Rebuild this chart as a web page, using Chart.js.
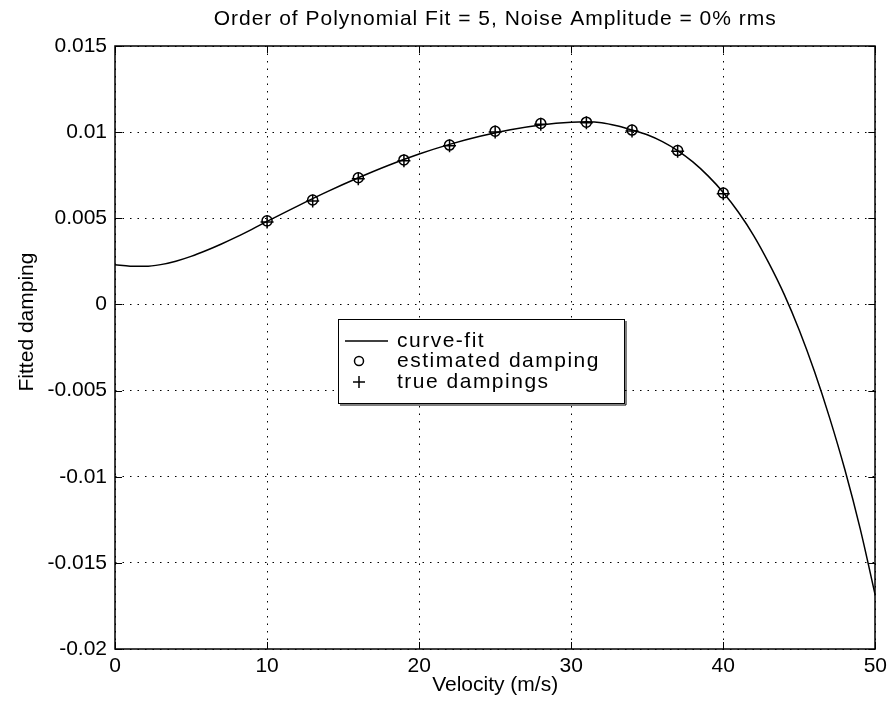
<!DOCTYPE html>
<html>
<head>
<meta charset="utf-8">
<title>Polynomial fit of damping</title>
<script src="https://cdn.jsdelivr.net/npm/chart.js@4.4.1/dist/chart.umd.min.js"></script>
<style>
  html, body { margin: 0; padding: 0; background: #fff; }
  #wrap { width: 892px; height: 704px; }
</style>
</head>
<body>
<div id="wrap"><canvas id="chart"></canvas></div>
<script>
// ---------------------------------------------------------------
// DATA
// ---------------------------------------------------------------
const curveVelocity = [0, 1, 2, 3, 4, 5, 6, 7, 8, 9, 10, 12, 14, 16, 18, 20, 22, 24, 26, 28,
                       30, 31, 32, 33, 34, 35, 36, 37, 38, 39, 40, 41, 42, 43, 44, 45, 46, 47, 48, 49, 50];
const curveDamping = [0.0023, 0.00222, 0.00221, 0.00231, 0.00251, 0.00279, 0.00313, 0.00351, 0.00392, 0.00436,
                      0.00482, 0.00571, 0.00656, 0.00735, 0.00808, 0.00873, 0.00929, 0.00976, 0.01014, 0.01042,
                      0.01058, 0.0106, 0.01055, 0.01037, 0.01012, 0.00985, 0.00945, 0.00893, 0.00827, 0.00746,
                      0.0065, 0.00535, 0.0040, 0.0024, 0.0006, -0.0015, -0.0039, -0.0066, -0.0096, -0.0130, -0.0169];

const velocities = [10, 13, 16, 19, 22, 25, 28, 31, 34, 37, 40];
const estimatedDamping = [0.00485, 0.00606, 0.00735, 0.00839, 0.00925, 0.01005, 0.0105, 0.01058, 0.01012, 0.00893, 0.00647];
const trueDampings = [0.00478, 0.00600, 0.00729, 0.00834, 0.00921, 0.01001, 0.01046, 0.01055, 0.01007, 0.00889, 0.00643];

const xTicks = [0, 10, 20, 30, 40, 50];
const yTicks = [-0.02, -0.015, -0.01, -0.005, 0, 0.005, 0.01, 0.015];

const titleText = 'Order of Polynomial Fit = 5, Noise Amplitude = 0% rms';
const xTitle = 'Velocity (m/s)';
const yTitle = 'Fitted damping';
const legendLabels = ['curve-fit', 'estimated damping', 'true dampings'];

const FONT = '"Liberation Sans", Arial, Helvetica, sans-serif';

function toPoints(xs, ys) {
    return xs.map((x, i) => ({ x: x, y: ys[i] }));
}

//---------------------------------------------------------------
// FRAME, INWARD TICKS, TITLES, LEGEND
//---------------------------------------------------------------
const matlabDecor = {
    id: 'matlabDecor',
    afterDraw(chart) {
        const ctx = chart.ctx;
        const a = chart.chartArea;
        const xs = chart.scales.x;
        const ys = chart.scales.y;
        const tl = 7;

        ctx.save();
        ctx.strokeStyle = '#000';
        ctx.lineWidth = 1;
        ctx.setLineDash([]);

        // inward ticks
        ctx.beginPath();
        xTicks.forEach(v => {
            const px = Math.round(xs.getPixelForValue(v)) + 0.5;
            ctx.moveTo(px, a.bottom); ctx.lineTo(px, a.bottom - tl);
            ctx.moveTo(px, a.top); ctx.lineTo(px, a.top + tl);
        });
        yTicks.forEach(v => {
            const py = Math.round(ys.getPixelForValue(v)) + 0.5;
            ctx.moveTo(a.left, py); ctx.lineTo(a.left + tl, py);
            ctx.moveTo(a.right, py); ctx.lineTo(a.right - tl, py);
        });
        ctx.stroke();

        // box
        ctx.lineWidth = 1.5;
        ctx.strokeRect(Math.round(a.left), Math.round(a.top), Math.round(a.right - a.left), Math.round(a.bottom - a.top));

        // title
        ctx.fillStyle = '#000';
        ctx.font = '21px ' + FONT;
        ctx.textAlign = 'center';
        ctx.textBaseline = 'middle';
        ctx.letterSpacing = '1px';
        ctx.fillText(titleText, (a.left + a.right) / 2, 19);
        ctx.letterSpacing = '0px';

        // y title
        ctx.save();
        ctx.translate(27, 322);
        ctx.rotate(-Math.PI / 2);
        ctx.fillText(yTitle, 0, 0);
        ctx.restore();

        // legend
        const lx = 338, ly = 319, lw = 286, lh = 84;
        ctx.fillStyle = '#fff';
        ctx.fillRect(lx, ly, lw, lh);
        ctx.lineWidth = 1;
        ctx.strokeStyle = '#000';
        ctx.strokeRect(lx + 0.5, ly + 0.5, lw, lh);
        ctx.beginPath();
        ctx.moveTo(lx + 2, ly + lh + 2); ctx.lineTo(lx + lw + 2, ly + lh + 2);
        ctx.lineTo(lx + lw + 2, ly + 2);
        ctx.stroke();

        const rows = [341, 361, 382];
        ctx.lineWidth = 1.5;
        ctx.beginPath();
        ctx.moveTo(345, rows[0]); ctx.lineTo(388, rows[0]);
        ctx.stroke();
        ctx.beginPath();
        ctx.arc(359, rows[1], 4.5, 0, Math.PI * 2);
        ctx.stroke();
        ctx.beginPath();
        ctx.moveTo(353, rows[2]); ctx.lineTo(365, rows[2]);
        ctx.moveTo(359, rows[2] - 6); ctx.lineTo(359, rows[2] + 6);
        ctx.stroke();

        ctx.fillStyle = '#000';
        ctx.font = '21px ' + FONT;
        ctx.textAlign = 'left';
        ctx.textBaseline = 'middle';
        ctx.letterSpacing = '1.5px';
        legendLabels.forEach((t, i) => ctx.fillText(t, 397, rows[i]));
        ctx.letterSpacing = '0px';

        ctx.restore();
    }
};

const ctx = document.getElementById('chart').getContext('2d');
const chart = new Chart(ctx, {
    type: 'scatter',
    data: {
        datasets: [{
            label: legendLabels[0],
            data: toPoints(curveVelocity, curveDamping),
            showLine: true,
            borderColor: '#000',
            borderWidth: 1.5,
            pointRadius: 0,
            cubicInterpolationMode: 'monotone',
            fill: false
        }, {
            label: legendLabels[1],
            data: toPoints(velocities, estimatedDamping),
            showLine: false,
            pointStyle: 'circle',
            pointRadius: 5,
            borderColor: '#000',
            borderWidth: 1.5,
            backgroundColor: 'rgba(0,0,0,0)'
        }, {
            label: legendLabels[2],
            data: toPoints(velocities, trueDampings),
            showLine: false,
            pointStyle: 'cross',
            pointRadius: 6.5,
            borderColor: '#000',
            borderWidth: 1.5
        }]
    },
    options: {
        responsive: true,
        maintainAspectRatio: false,
        animation: false,
        layout: { padding: { top: 46, right: 16, left: 0, bottom: 0 } },
        plugins: {
            legend: { display: false },
            title: { display: false },
            tooltip: { enabled: false }
        },
        scales: {
            x: {
                type: 'linear',
                min: 0,
                max: 50,
                afterBuildTicks: axis => { axis.ticks = xTicks.map(v => ({ value: v })); },
                afterFit: axis => { axis.height = 55; },
                ticks: {
                    autoSkip: false,
                    maxRotation: 0,
                    padding: 5,
                    color: '#000',
                    font: { family: FONT, size: 21 }
                },
                grid: { color: '#000', lineWidth: 1, drawTicks: false },
                border: { display: false, dash: [1.5, 6] },
                title: {
                    display: true,
                    text: xTitle,
                    color: '#000',
                    font: { family: FONT, size: 21 },
                    padding: { top: 0, bottom: 6 }
                }
            },
            y: {
                type: 'linear',
                min: -0.02,
                max: 0.015,
                afterBuildTicks: axis => { axis.ticks = yTicks.map(v => ({ value: v })); },
                afterFit: axis => { axis.width = 115; },
                ticks: {
                    autoSkip: false,
                    padding: 8,
                    color: '#000',
                    font: { family: FONT, size: 21 },
                    callback: v => String(Number(v.toFixed(3)))
                },
                grid: { color: '#000', lineWidth: 1, drawTicks: false },
                border: { display: false, dash: [1.5, 6] }
            }
        }
    },
    plugins: [matlabDecor]
});
</script>
</body>
</html>
